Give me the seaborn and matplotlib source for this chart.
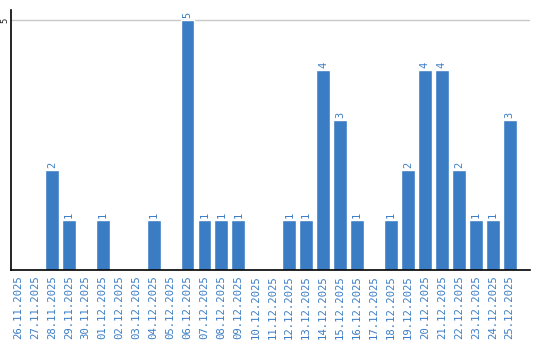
import matplotlib
matplotlib.use("Agg")
import matplotlib.pyplot as plt
import seaborn as sns
import pandas as pd

dates = ["26.11.2025", "27.11.2025", "28.11.2025", "29.11.2025", "30.11.2025",
         "01.12.2025", "02.12.2025", "03.12.2025", "04.12.2025", "05.12.2025",
         "06.12.2025", "07.12.2025", "08.12.2025", "09.12.2025", "10.12.2025",
         "11.12.2025", "12.12.2025", "13.12.2025", "14.12.2025", "15.12.2025",
         "16.12.2025", "17.12.2025", "18.12.2025", "19.12.2025", "20.12.2025",
         "21.12.2025", "22.12.2025", "23.12.2025", "24.12.2025", "25.12.2025"]
counts = [0, 0, 2, 1, 0, 1, 0, 0, 1, 0, 5, 1, 1, 1, 0, 0, 1, 1, 4, 3, 1, 0, 1, 2, 4, 4, 2, 1, 1, 3]
yticks = [5]

BLUE = "#3b7dc4"
sns.set_style("white")
plt.rcParams['font.family'] = ['DejaVu Sans Mono', 'DejaVu Sans']

df = pd.DataFrame({"date": dates, "count": counts})
fig = plt.figure(figsize=(5.4, 3.4), dpi=100)
ax = fig.add_axes([11/540, 70/340, 519/540, 260/340])
sns.barplot(data=df, x="date", y="count", color=BLUE, saturation=1, width=0.82, ax=ax)
for p, v in zip(ax.patches, counts):
    if v > 0:
        ax.text(p.get_x() + p.get_width()/2, v + 0.04, str(v), rotation=90,
                ha="center", va="bottom", color=BLUE, fontsize=7.5)
ax.set_xlim(-0.41, 30.2)
ax.set_ylim(0, 5.2)
ax.set_yticks(yticks)
ax.set_yticklabels([str(t) for t in yticks], rotation=90, va="center", fontsize=6.5)
ax.tick_params(axis="y", length=0, pad=1)
ax.tick_params(axis="x", length=0, pad=4, labelrotation=90, labelcolor=BLUE, labelsize=7.7)
ax.yaxis.grid(True, color="#c8c8c8", linewidth=1)
ax.set_axisbelow(True)
ax.set_xlabel("")
ax.set_ylabel("")
for s in ["top", "right"]:
    ax.spines[s].set_visible(False)
for s in ["left", "bottom"]:
    ax.spines[s].set_color("black")
    ax.spines[s].set_linewidth(1.2)
fig.savefig("out.png", dpi=100)
